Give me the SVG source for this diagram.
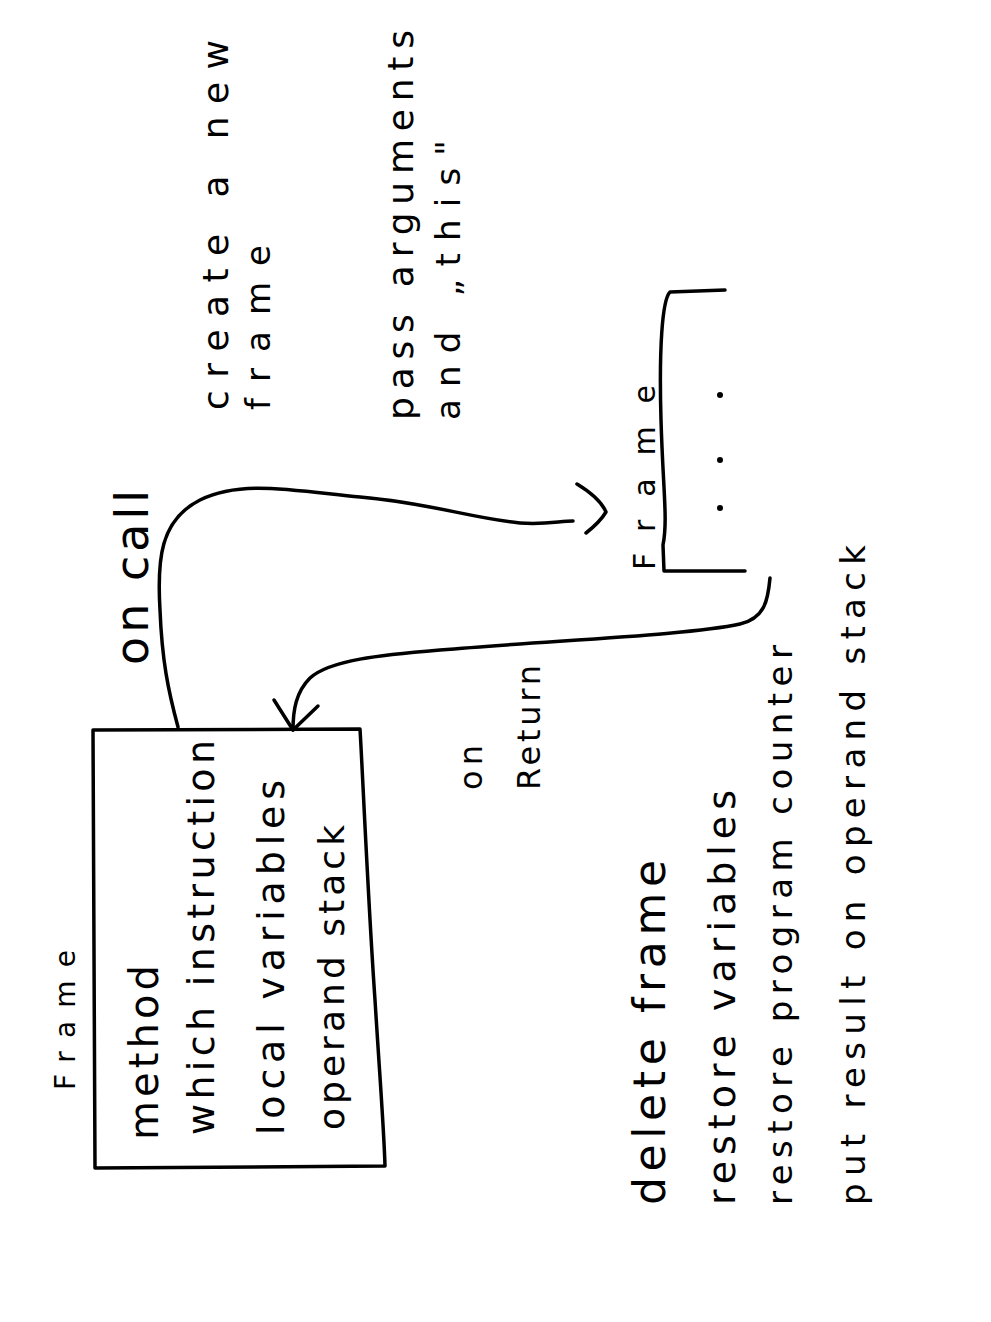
<svg xmlns="http://www.w3.org/2000/svg" width="991" height="1322" viewBox="0 0 991 1322">
<style>
text{font-family:"DejaVu Sans","Liberation Sans",sans-serif;fill:#000;}
.l{stroke:#000;stroke-width:3.5;fill:none;stroke-linecap:round;stroke-linejoin:round;}
</style>
<rect width="991" height="1322" fill="#fff"/>
<g id="frame-caller">
<path class="l" d="M93,730 L360,729 C362,760 368,900 375,1000 C380,1080 384,1130 385,1166 L95,1168 Z"/>
<text transform="translate(75,1090) rotate(-90)" font-size="28" textLength="140" lengthAdjust="spacing">Frame</text>
<text transform="translate(158,1140) rotate(-90)" font-size="40" textLength="175" lengthAdjust="spacing">method</text>
<text transform="translate(214,1135) rotate(-90)" font-size="38" textLength="395" lengthAdjust="spacing">which instruction</text>
<text transform="translate(284,1135) rotate(-90)" font-size="38" textLength="355" lengthAdjust="spacing">local variables</text>
<text transform="translate(344,1130) rotate(-90)" font-size="36" textLength="305" lengthAdjust="spacing">operand stack</text>
</g>
<g id="frame-new">
<path class="l" d="M725,290 L670,292 C662,300 659,350 661,420 C663,490 668,520 663,545 L664,571 L745,571"/>
<text transform="translate(655,570) rotate(-90)" font-size="30" textLength="185" lengthAdjust="spacing">Frame</text>
<circle cx="720" cy="395" r="3"/>
<circle cx="720" cy="460" r="3"/>
<circle cx="720" cy="508" r="3"/>
</g>
<g id="label-call">
<text transform="translate(148,665) rotate(-90)" font-size="46" textLength="175" lengthAdjust="spacing">on call</text>
<text transform="translate(228,410) rotate(-90)" font-size="36" textLength="370" lengthAdjust="spacing">create a new</text>
<text transform="translate(270,410) rotate(-90)" font-size="34" textLength="165" lengthAdjust="spacing">frame</text>
<text transform="translate(413,420) rotate(-90)" font-size="36" textLength="390" lengthAdjust="spacing">pass arguments</text>
<text transform="translate(460,420) rotate(-90)" font-size="34" textLength="280" lengthAdjust="spacing">and „this"</text>
</g>
<g id="label-return">
<text transform="translate(482,790) rotate(-90)" font-size="32" textLength="45" lengthAdjust="spacing">on</text>
<text transform="translate(540,790) rotate(-90)" font-size="32" textLength="125" lengthAdjust="spacing">Return</text>
<text transform="translate(665,1205) rotate(-90)" font-size="44" textLength="345" lengthAdjust="spacing">delete frame</text>
<text transform="translate(735,1205) rotate(-90)" font-size="38" textLength="415" lengthAdjust="spacing">restore variables</text>
<text transform="translate(792,1205) rotate(-90)" font-size="34" textLength="560" lengthAdjust="spacing">restore program counter</text>
<text transform="translate(865,1205) rotate(-90)" font-size="34" textLength="660" lengthAdjust="spacing">put result on operand stack</text>
</g>
<g id="connectors">
<path class="l" d="M178,727 C168,690 162,660 160,610 C157,560 160,520 200,500 C240,480 290,490 360,497 C430,503 470,518 520,523 C545,525 560,521 573,521"/>
<path class="l" d="M577,484 Q600,498 606,512 Q600,522 586,533"/>
<path class="l" d="M770,578 C768,600 765,618 740,624 C690,635 560,640 440,650 C380,655 330,660 310,678 C296,692 293,710 293,730"/>
<path class="l" d="M274,700 L293,730 L318,706"/>
</g>
</svg>
